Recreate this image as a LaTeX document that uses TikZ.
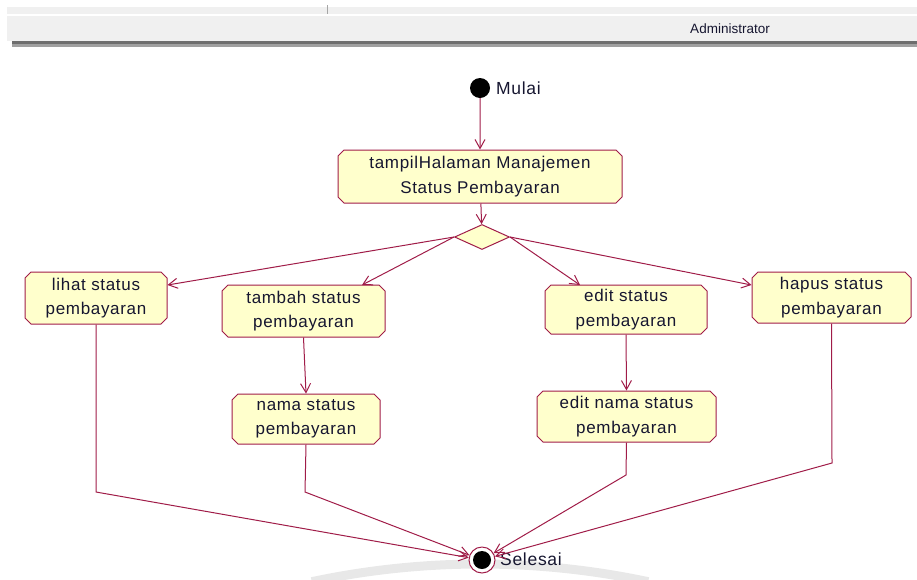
\documentclass[tikz,border=0pt]{standalone}
\usepackage{fontspec}
\setmainfont{Liberation Sans}
\newfontfamily\actfont[LetterSpace=4]{Liberation Sans}
\usetikzlibrary{arrows.meta,shapes.misc,shapes.geometric}
\definecolor{edge}{RGB}{160,28,72}
\definecolor{actfill}{RGB}{255,255,204}
\definecolor{ink}{RGB}{22,22,48}
\definecolor{barlight}{RGB}{240,240,240}
\definecolor{bardark}{RGB}{110,110,110}
\definecolor{barmid}{RGB}{160,160,160}
\tikzset{
  act/.style={chamfered rectangle, chamfered rectangle xsep=3pt, chamfered rectangle ysep=3pt,
    draw=edge, line width=1pt, fill=actfill, align=center, inner sep=0pt, text=ink,
    font=\actfont\fontsize{17}{24.5}\selectfont},
  flow/.style={draw=edge, line width=1pt, -{Straight Barb[length=9pt,width=10pt,line width=1pt]}},
  lbl/.style={font=\actfont\fontsize{17.5}{20}\selectfont, text=ink, inner sep=0pt, anchor=west}
}
\begin{document}
\begin{tikzpicture}[x=1pt,y=-1pt]
\useasboundingbox (0,0) rectangle (917,579);
% window header
\fill[barlight] (7,7) rectangle (917,14);
\draw[gray!70, line width=0.8pt] (327,5) -- (327,14);
\fill[barlight] (7,16) rectangle (917,41);
\fill[bardark] (12,41) rectangle (917,44);
\fill[barmid] (12,44) rectangle (917,47);
\node[font=\fontsize{13.5}{16}\selectfont, text=ink] (hdr) at (730,29) {Administrator};
% faint ring at the bottom (y axis points down, so the top of the ring lies at 270 degrees)
\draw[black!9, line width=9pt] (480,1373) ++(258:809) arc (258:282:809);
% activity nodes
\node[circle, fill=black, minimum size=20pt, inner sep=0pt] (start) at (480,88) {};
\node[lbl] (startlbl) at (496,88) {Mulai};
\node[act, minimum width=284pt, minimum height=53pt] (tampil) at (480,176.5) {tampilHalaman Manajemen\\Status Pembayaran};
\node[diamond, draw=edge, line width=1pt, fill=actfill, minimum width=55pt, minimum height=25pt, inner sep=0pt] (dec) at (482,237) {};
\node[act, minimum width=142pt, minimum height=52pt] (lihat) at (96,298) {lihat status\\pembayaran};
\node[act, minimum width=163pt, minimum height=52pt] (tambah) at (303.5,311) {tambah status\\pembayaran};
\node[act, minimum width=148pt, minimum height=50pt] (nama) at (306,419) {nama status\\pembayaran};
\node[act, minimum width=162pt, minimum height=49pt] (edit) at (626,309.5) {edit status\\pembayaran};
\node[act, minimum width=179pt, minimum height=51pt] (editnama) at (626.5,416.5) {edit nama status\\pembayaran};
\node[act, minimum width=159pt, minimum height=51pt] (hapus) at (831.5,297.5) {hapus status\\pembayaran};
\node[circle, draw=edge, line width=1pt, fill=white, minimum size=26pt, inner sep=0pt] (end) at (482,560) {};
\fill[black] (end.center) circle (9pt);
\node[lbl] (endlbl) at (500,559) {Selesai};
% bend points of the joining flows
\coordinate (kLihat) at (96,492);
\coordinate (kNama) at (305,492);
\coordinate (kEdit) at (626,475);
\coordinate (kHapus) at (832,463);
% flows
\draw[flow] (start) -- (tampil);
\draw[flow] (tampil) -- (dec);
\draw[flow] (dec.west) -- (lihat.east |- 0,285);
\draw[flow] (dec.west) -- (362,285);
\draw[flow] (dec.east) -- (580,285);
\draw[flow] (dec.east) -- (hapus.west |- 0,285);
\draw[flow] (tambah.south) -- (nama.north);
\draw[flow] (edit.south) -- (editnama.north);
\draw[flow] (lihat.south) -- (kLihat) -- (end);
\draw[flow] (nama.south) -- (kNama) -- (end);
\draw[flow] (editnama.south) -- (kEdit) -- (end);
\draw[flow] (hapus.south) -- (kHapus) -- (end);
\end{tikzpicture}
\end{document}
